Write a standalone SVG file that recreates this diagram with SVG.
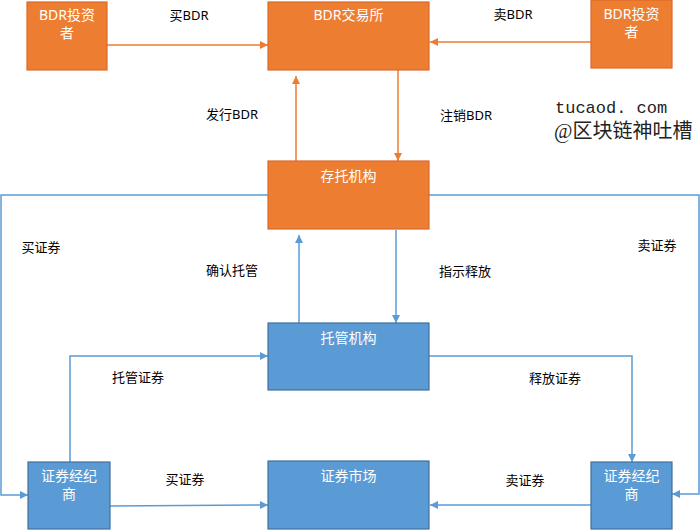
<svg xmlns="http://www.w3.org/2000/svg" width="700" height="530" viewBox="0 0 700 530">
<style>
.o{fill:#ED7D31;stroke:#D9692A;stroke-width:1.2}
.b{fill:#5B9BD5;stroke:#41719C;stroke-width:1.2}
.bt{fill:#fff;font-family:"Noto Sans","Noto Sans CJK SC",sans-serif;font-size:14px;text-anchor:middle}
.lb{fill:#000;font-family:"Noto Sans","Noto Sans CJK SC",sans-serif;font-size:13px;text-anchor:middle}
.lo{fill:none;stroke:#ED7D31;stroke-width:1.5}
.lbl{fill:none;stroke:#5B9BD5;stroke-width:1.5}
</style>
<defs>
<marker id="ao" markerUnits="userSpaceOnUse" markerWidth="9" markerHeight="9" refX="8" refY="4.5" orient="auto"><path d="M0,0.5 L8,4.5 L0,8.5 Z" fill="#ED7D31"/></marker>
<marker id="ab" markerUnits="userSpaceOnUse" markerWidth="9" markerHeight="9" refX="8" refY="4.5" orient="auto"><path d="M0,0.5 L8,4.5 L0,8.5 Z" fill="#5B9BD5"/></marker>
</defs>
<g id="connectors">
<path class="lo" d="M107,45 L268,45" marker-end="url(#ao)"/>
<path class="lo" d="M591,42 L430,42" marker-end="url(#ao)"/>
<path class="lo" d="M296,161 L296,76" marker-end="url(#ao)"/>
<path class="lo" d="M398,70 L398,161" marker-end="url(#ao)"/>
<path class="lbl" d="M299,323 L299,235" marker-end="url(#ab)"/>
<path class="lbl" d="M396,230 L396,323" marker-end="url(#ab)"/>
<path class="lbl" d="M268,195 L1,195 L1,495 L28,495" marker-end="url(#ab)"/>
<path class="lbl" d="M429,195 L699,195 L699,494 L672,494" marker-end="url(#ab)"/>
<path class="lbl" d="M70,462 L70,356 L268,356" marker-end="url(#ab)"/>
<path class="lbl" d="M429,356 L632,356 L632,462" marker-end="url(#ab)"/>
<path class="lbl" d="M110,506 L268,505" marker-end="url(#ab)"/>
<path class="lbl" d="M591,505 L430,505" marker-end="url(#ab)"/>
<text class="lb" x="189" y="20">买BDR</text>
<text class="lb" x="513" y="19">卖BDR</text>
<text class="lb" x="232" y="119">发行BDR</text>
<text class="lb" x="466" y="120">注销BDR</text>
<text class="lb" x="232" y="275">确认托管</text>
<text class="lb" x="465" y="276">指示释放</text>
<text class="lb" x="41" y="252">买证券</text>
<text class="lb" x="657" y="250">卖证券</text>
<text class="lb" x="138" y="382">托管证券</text>
<text class="lb" x="555" y="383">释放证券</text>
<text class="lb" x="185" y="484">买证券</text>
<text class="lb" x="525" y="485">卖证券</text>
</g>
<g id="bdr-investor-left"><rect class="o" x="27" y="2" width="80" height="68"/><text class="bt" x="67" y="20">BDR投资</text><text class="bt" x="67" y="38">者</text></g>
<g id="bdr-exchange"><rect class="o" x="268" y="2" width="161" height="68"/><text class="bt" x="348.5" y="20">BDR交易所</text></g>
<g id="bdr-investor-right"><rect class="o" x="591" y="0" width="81" height="68"/><text class="bt" x="631.5" y="19">BDR投资</text><text class="bt" x="631.5" y="37">者</text></g>
<g id="depository"><rect class="o" x="268" y="161" width="161" height="68"/><text class="bt" x="348.5" y="181">存托机构</text></g>
<g id="custodian"><rect class="b" x="268" y="323" width="161" height="67"/><text class="bt" x="348.5" y="343">托管机构</text></g>
<g id="broker-left"><rect class="b" x="28" y="462" width="82" height="67"/><text class="bt" x="69" y="481">证券经纪</text><text class="bt" x="69" y="499">商</text></g>
<g id="market"><rect class="b" x="268" y="461" width="161" height="68"/><text class="bt" x="348.5" y="481">证券市场</text></g>
<g id="broker-right"><rect class="b" x="591" y="462" width="81" height="67"/><text class="bt" x="631.5" y="481">证券经纪</text><text class="bt" x="631.5" y="499">商</text></g>
<g id="watermark">
<text x="555" y="113" font-family="Liberation Mono, monospace" font-size="17" fill="#222">tucaod. com</text>
<text x="554" y="138" font-family="Liberation Serif, Noto Sans CJK SC, serif" font-size="20" fill="#222">@区块链神吐槽</text>
</g>
</svg>
